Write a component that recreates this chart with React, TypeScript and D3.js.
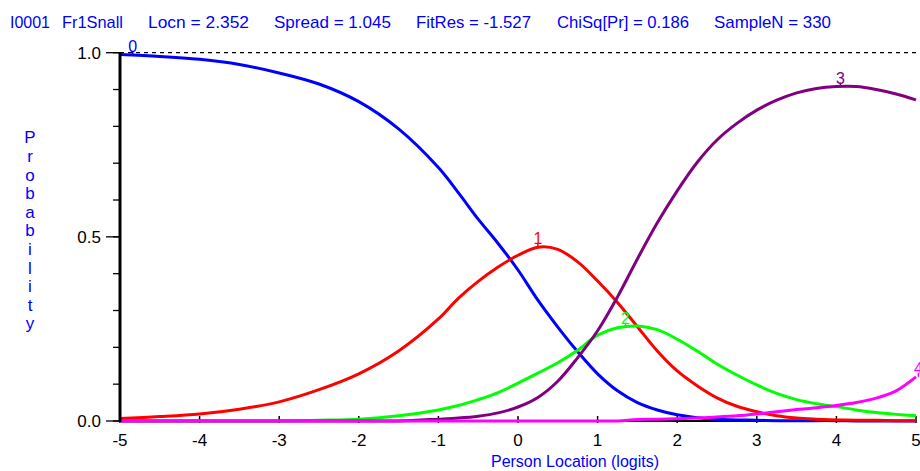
import * as d3 from "d3";

// person location grid (logits)
const logits = [
  -5, -4.5, -4, -3.5, -3, -2.5, -2, -1.5, -1, -0.75, -0.5, -0.25, 0, 0.25, 0.5, 0.75, 1,
  1.25, 1.5, 1.75, 2, 2.25, 2.5, 2.75, 3, 3.25, 3.5, 3.75, 4, 4.25, 4.5, 4.75, 5,
];

// category probability curves
const cat0 = [
  0.995, 0.99, 0.982, 0.968, 0.945, 0.915, 0.867, 0.793, 0.688, 0.62, 0.548, 0.482, 0.41, 0.328, 0.255, 0.188, 0.128,
  0.082, 0.05, 0.03, 0.017, 0.009, 0.005, 0.003, 0.002, 0.001, 0.001, 0.001, 0.001, 0, 0, 0, 0,
];
const cat1 = [
  0.007, 0.012, 0.019, 0.032, 0.052, 0.085, 0.128, 0.19, 0.277, 0.333, 0.379, 0.418, 0.45, 0.472, 0.466, 0.432, 0.38,
  0.322, 0.256, 0.19, 0.136, 0.096, 0.063, 0.04, 0.025, 0.014, 0.008, 0.005, 0.003, 0.002, 0.002, 0.001, 0.001,
];
const cat2 = [
  0, 0, 0, 0, 0, 0.002, 0.005, 0.014, 0.03, 0.042, 0.058, 0.077, 0.103, 0.13, 0.158, 0.192, 0.233,
  0.253, 0.258, 0.248, 0.222, 0.19, 0.155, 0.125, 0.098, 0.075, 0.058, 0.047, 0.039, 0.03, 0.023, 0.018, 0.014,
];
const cat3 = [
  0, 0, 0, 0, 0, 0, 0, 0, 0.005, 0.008, 0.013, 0.022, 0.038, 0.064, 0.108, 0.172, 0.245,
  0.337, 0.44, 0.538, 0.625, 0.702, 0.763, 0.808, 0.844, 0.871, 0.891, 0.903, 0.908, 0.908, 0.9, 0.888, 0.872,
];
const cat4 = [
  0, 0, 0, 0, 0, 0, 0, 0, 0, 0, 0, 0, 0, 0, 0, 0, 0,
  0, 0.004, 0.005, 0.006, 0.008, 0.011, 0.014, 0.019, 0.025, 0.031, 0.036, 0.042, 0.05, 0.062, 0.082, 0.12,
];

const categories = ["0", "1", "2", "3", "4"];
const series = [cat0, cat1, cat2, cat3, cat4];
const colors = ["#0000ff", "#ff0000", "#00ff00", "#800080", "#ff00ff"];
const labelAt = [-4.84, 0.25, 1.35, 4.05, 5.03];

const titleParts = [
  { text: "I0001", x: 10, w: 40 },
  { text: "Fr1Snall", x: 62, w: 61 },
  { text: "Locn = 2.352", x: 148, w: 101 },
  { text: "Spread = 1.045", x: 274, w: 117 },
  { text: "FitRes = -1.527", x: 416, w: 115 },
  { text: "ChiSq[Pr] = 0.186", x: 557, w: 132 },
  { text: "SampleN = 330", x: 714, w: 117 },
];

const xTicks = [-5, -4, -3, -2, -1, 0, 1, 2, 3, 4, 5];
const yMajor = [0, 0.5, 1];
const yMinor = d3.range(0, 1.0001, 0.1);
const yLabel = "Probability";

const width = 920;
const height = 471;
const font = "'Liberation Sans', Arial, sans-serif";

function valueAt(vals: number[], x: number) {
  const i = Math.max(0, Math.min(logits.length - 2, d3.bisectRight(logits, x) - 1));
  const t = Math.min(1, (x - logits[i]) / (logits[i + 1] - logits[i]));
  return vals[i] + (vals[i + 1] - vals[i]) * t;
}

export default function App() {
  const x = d3.scaleLinear().domain([-5, 5]).range([120, 916]);
  const y = d3.scaleLinear().domain([0, 1]).range([421, 52.7]);

  const line = d3
    .line<number>()
    .x((_, i) => x(logits[i]))
    .y((d) => y(d))
    .curve(d3.curveCatmullRom.alpha(0.5));

  return (
    <svg
      width={width}
      height={height}
      style={{ position: "absolute", left: 0, top: 0, background: "#fff" }}
      fontFamily={font}
    >
      {/* header */}
      {titleParts.map((t) => (
        <text
          key={t.text}
          x={t.x}
          y={28}
          fontSize={17}
          fill="#0000ff"
          textLength={t.w}
          lengthAdjust="spacingAndGlyphs"
        >
          {t.text}
        </text>
      ))}

      {/* y axis title, stacked letters */}
      {yLabel.split("").map((c, i) => (
        <text key={i} x={30} y={143.3 + i * 18.6} fontSize={17} fill="#0000ff" textAnchor="middle">
          {c}
        </text>
      ))}

      {/* reference line at 1.0 */}
      <line x1={x(-5)} x2={width} y1={y(1)} y2={y(1)} stroke="#000" strokeWidth={1.2} strokeDasharray="4,4" />

      {/* x axis baseline */}
      <line x1={x(-5)} x2={x(5)} y1={y(0)} y2={y(0)} stroke="#000" strokeWidth={2} />
      {xTicks.map((t) => (
        <g key={t}>
          <line x1={x(t)} x2={x(t)} y1={416} y2={423} stroke="#000" strokeWidth={1.5} />
          <text x={x(t)} y={445.5} fontSize={17} textAnchor="middle" fill="#000">
            {t}
          </text>
        </g>
      ))}
      <text x={575} y={466.5} fontSize={16} fill="#0000ff" textAnchor="middle">
        Person Location (logits)
      </text>

      {/* y axis */}
      {yMinor.map((t) => (
        <line key={t} x1={113} x2={120} y1={y(t)} y2={y(t)} stroke="#000" strokeWidth={1.3} />
      ))}
      {yMajor.map((t) => (
        <g key={t}>
          <line x1={106} x2={120} y1={y(t)} y2={y(t)} stroke="#000" strokeWidth={1.3} />
          <text x={101} y={y(t) + 6} fontSize={17} textAnchor="end" fill="#000">
            {t.toFixed(1)}
          </text>
        </g>
      ))}

      {/* curves */}
      {series.map((s, i) => (
        <path key={i} d={line(s) ?? ""} fill="none" stroke={colors[i]} strokeWidth={3} />
      ))}
      <line x1={x(-5)} x2={x(-5)} y1={y(1)} y2={y(0) + 1} stroke="#000" strokeWidth={3} />

      {/* category labels */}
      {categories.map((c, i) => {
        const lx = x(labelAt[i]);
        const ly = y(valueAt(series[i], Math.min(5, labelAt[i])));
        return (
          <g key={c}>
            <line x1={lx} x2={lx} y1={ly} y2={ly - 4} stroke={colors[i]} strokeWidth={1.5} />
            <text x={lx} y={ly - 3} fontSize={16} fill={colors[i]} textAnchor="middle">
              {c}
            </text>
          </g>
        );
      })}
    </svg>
  );
}
